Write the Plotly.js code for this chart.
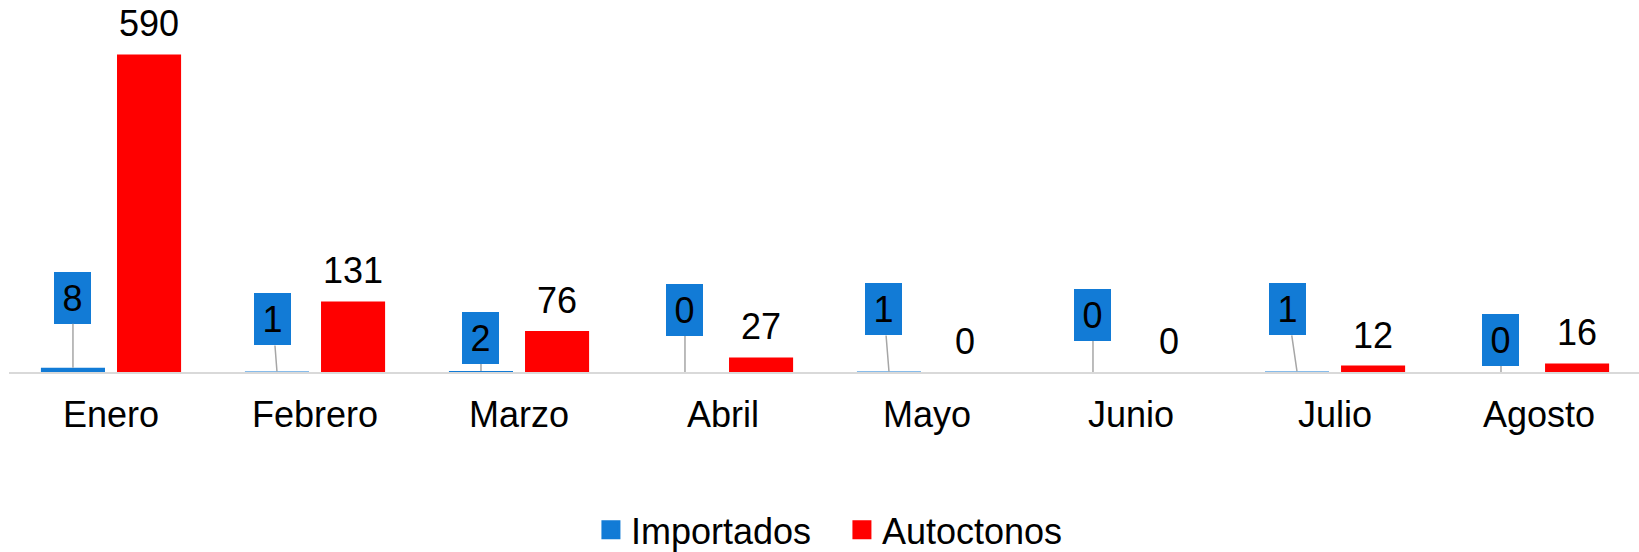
<!DOCTYPE html>
<html>
<head>
<meta charset="utf-8">
<script src="https://cdn.plot.ly/plotly-3.0.1.min.js"></script>
<style>html,body{margin:0;padding:0;background:#fff;}#chart{width:1639px;height:552px;}</style>
</head>
<body>
<div id="chart"></div>
<script>
// Data
const months = ["Enero", "Febrero", "Marzo", "Abril", "Mayo", "Junio", "Julio", "Agosto"];
const importados = [8, 1, 2, 0, 1, 0, 1, 0];
const autoctonos = [590, 131, 76, 27, 0, 0, 12, 16];
const seriesNames = ["Importados", "Autoctonos"];

// Label callout offsets (pixels, style only)
const calloutAx = [0, -4, 0, 0, -5, 0, -9, 0];
const calloutAy = [-70, -52, -33, -62, -62, -57, -62, -32];

const BLUE = "#127bd6";
const RED = "#ff0000";
const FONT = "Liberation Sans, Arial, sans-serif";
const FS = 36;

const bargap = 0.254;
const bargroupgap = 0.158;
const slot = (1 - bargap) / 2;

const traces = [
  { type: "bar", name: seriesNames[0], x: months, y: importados, marker: { color: BLUE }, showlegend: false },
  { type: "bar", name: seriesNames[1], x: months, y: autoctonos, marker: { color: RED }, showlegend: false },
  // legend entries (larger square swatches)
  { type: "scatter", mode: "markers", name: seriesNames[0], x: [null], y: [null],
    marker: { symbol: "square", size: 16, color: BLUE, line: { width: 3, color: BLUE } }, showlegend: true },
  { type: "scatter", mode: "markers", name: seriesNames[1], x: [null], y: [null],
    marker: { symbol: "square", size: 16, color: RED, line: { width: 3, color: RED } }, showlegend: true }
];

const annotations = [];
months.forEach((m, i) => {
  annotations.push({
    xref: "x", yref: "y", x: i - slot / 2, y: importados[i],
    text: String(importados[i]), showarrow: true, arrowhead: 0, arrowwidth: 1.5,
    arrowcolor: "#a6a6a6", ax: calloutAx[i], ay: calloutAy[i], standoff: 0,
    bgcolor: BLUE, width: 37, height: 52, borderpad: 0, borderwidth: 0,
    font: { family: FONT, size: FS, color: "#000" }
  });
  annotations.push({
    xref: "x", yref: "y", x: i + slot / 2, y: autoctonos[i],
    text: String(autoctonos[i]), showarrow: false, yanchor: "bottom", yshift: 8,
    font: { family: FONT, size: FS, color: "#000" }
  });
});

const layout = {
  width: 1639, height: 552,
  margin: { l: 9, r: 0, t: 20, b: 180 },
  paper_bgcolor: "#fff", plot_bgcolor: "#fff",
  barmode: "group", bargap: bargap, bargroupgap: bargroupgap,
  font: { family: FONT, size: FS, color: "#000" },
  xaxis: {
    type: "category", range: [-0.5, 7.49], showgrid: false, zeroline: false,
    showline: true, linecolor: "#d9d9d9", linewidth: 2, ticks: "", ticklabelstandoff: 10,
    tickfont: { family: FONT, size: FS, color: "#000" }, fixedrange: true
  },
  yaxis: {
    range: [0, 654], showgrid: false, zeroline: false, showline: false,
    showticklabels: false, ticks: "", fixedrange: true
  },
  showlegend: true,
  legend: {
    orientation: "h", xref: "paper", x: 0.511, xanchor: "center",
    yref: "container", y: 0.04, yanchor: "middle",
    font: { family: FONT, size: FS, color: "#000" }, itemwidth: 30,
    itemsizing: "trace", entrywidth: 206, entrywidthmode: "pixels",
    traceorder: "normal"
  },
  annotations: annotations
};

Plotly.newPlot("chart", traces, layout, { displayModeBar: false, staticPlot: true });
</script>
</body>
</html>
